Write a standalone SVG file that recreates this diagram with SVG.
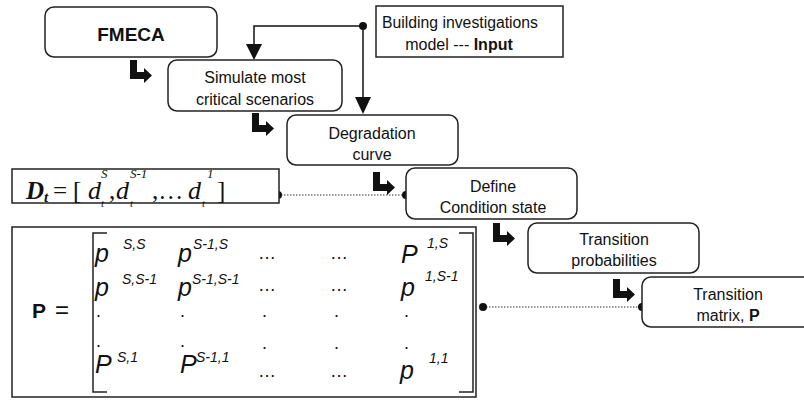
<svg xmlns="http://www.w3.org/2000/svg" width="804" height="400" viewBox="0 0 804 400">
<defs>
<style>
.node{fill:#fff;stroke:#222;stroke-width:1.5}
.box{fill:#fff;stroke:#222;stroke-width:1.5}
.t{font-family:"Liberation Sans",Arial,sans-serif;font-size:16px;fill:#111;text-anchor:middle}
.b{font-weight:bold}
.conn{fill:none;stroke:#111;stroke-width:1.5}
.dot{fill:#111}
.dotted{fill:none;stroke:#333;stroke-width:1.2;stroke-dasharray:1.5 1.5}
.m{font-family:"Liberation Sans",Arial,sans-serif;font-style:italic;font-size:25px;fill:#111}
.s{font-family:"Liberation Sans",Arial,sans-serif;font-style:italic;font-size:14px;fill:#111}
.d{font-family:"Liberation Sans",Arial,sans-serif;font-size:18px;fill:#111}
.sr{font-family:"Liberation Serif","Times New Roman",serif;fill:#111}
.brk{fill:none;stroke:#222;stroke-width:1.5}
</style>
<path id="bent" d="M0,0 H7 V12 H14 V8 L22,15.5 L14,23 V19 H0 Z" fill="#111"/>
</defs>
<rect width="804" height="400" fill="#fff"/>

<g id="connectors">
<path class="conn" d="M363,26 H254 V46"/>
<path d="M246,44 L262,44 L254,60 Z" fill="#111"/>
<path class="conn" d="M363,26 V98"/>
<path d="M355,97 L371,97 L363,114 Z" fill="#111"/>
<circle class="dot" cx="363" cy="26" r="4"/>
<path class="dotted" d="M278,195 H406"/>
<circle class="dot" cx="278" cy="195" r="4"/>
<circle class="dot" cx="406" cy="195" r="4"/>
<path class="dotted" d="M483,307 H642"/>
<circle class="dot" cx="483" cy="307" r="4"/>
<circle class="dot" cx="642" cy="307" r="4"/>
<use href="#bent" x="130" y="60"/>
<use href="#bent" x="252" y="113"/>
<use href="#bent" x="373" y="172"/>
<use href="#bent" x="493" y="223"/>
<use href="#bent" x="613" y="279"/>
</g>

<g id="fmeca">
<rect class="node" x="45" y="7" width="172" height="50" rx="9"/>
<text class="t b" x="131" y="41" style="font-size:19px">FMECA</text>
</g>

<g id="building">
<rect class="box" x="376" y="6" width="187" height="51"/>
<text class="t" x="460" y="28" textLength="156" lengthAdjust="spacingAndGlyphs">Building investigations</text>
<text class="t" x="459" y="50">model --- <tspan class="b">Input</tspan></text>
</g>

<g id="simulate">
<rect class="node" x="168" y="60" width="174" height="51" rx="9"/>
<text class="t" x="255" y="83">Simulate most</text>
<text class="t" x="255" y="105" textLength="118" lengthAdjust="spacingAndGlyphs">critical scenarios</text>
</g>

<g id="degradation">
<rect class="node" x="287" y="115" width="171" height="50" rx="9"/>
<text class="t" x="372" y="139">Degradation</text>
<text class="t" x="372" y="160">curve</text>
</g>

<g id="define">
<rect class="node" x="406" y="168" width="171" height="51" rx="9"/>
<text class="t" x="493" y="192">Define</text>
<text class="t" x="493" y="213">Condition state</text>
</g>

<g id="transprob">
<rect class="node" x="528" y="223" width="171" height="50" rx="9"/>
<text class="t" x="614" y="245">Transition</text>
<text class="t" x="614" y="266">probabilities</text>
</g>

<g id="transmatrix">
<rect class="node" x="642" y="277" width="175" height="50" rx="9"/>
<text class="t" x="728" y="300">Transition</text>
<text class="t" x="728" y="321">matrix, <tspan class="b">P</tspan></text>
</g>

<g id="dt">
<rect class="box" x="12" y="169" width="267" height="34"/>
<text class="sr" x="26" y="199" style="font-size:25px;font-weight:bold;font-style:italic">D</text>
<text class="sr" x="44" y="202" style="font-size:15px;font-weight:bold;font-style:italic">t</text>
<text class="sr" x="53" y="199" style="font-size:25px">=</text>
<text class="sr" x="73" y="199" style="font-size:25px">[</text>
<text class="sr" x="88" y="199" style="font-size:26px;font-style:italic">d</text>
<text class="sr" x="101" y="178" style="font-size:13px;font-style:italic">S</text>
<text class="sr" x="101" y="207" style="font-size:11px;font-style:italic">t</text>
<text class="sr" x="109" y="199" style="font-size:25px">,</text>
<text class="sr" x="116" y="199" style="font-size:26px;font-style:italic">d</text>
<text class="sr" x="130" y="178" style="font-size:13px;font-style:italic">S-1</text>
<text class="sr" x="130" y="207" style="font-size:11px;font-style:italic">t</text>
<text class="sr" x="152" y="199" style="font-size:25px">,…</text>
<text class="sr" x="188" y="199" style="font-size:26px;font-style:italic">d</text>
<text class="sr" x="207" y="178" style="font-size:13px;font-style:italic">1</text>
<text class="sr" x="202" y="207" style="font-size:11px;font-style:italic">t</text>
<text class="sr" x="217" y="199" style="font-size:25px">]</text>
</g>

<g id="pmatrix">
<rect class="box" x="12" y="227" width="464" height="170"/>
<text x="32" y="318" style="font-family:'Liberation Sans',Arial,sans-serif;font-size:21px;font-weight:bold;fill:#111">P</text>
<text x="55" y="318" style="font-family:'Liberation Sans',Arial,sans-serif;font-size:24px;fill:#111">=</text>
<path class="brk" d="M107,233 H93 V392 H107"/>
<path class="brk" d="M459,233 H473 V392 H459"/>
<!-- row 1 -->
<text class="m" x="95" y="262">p</text>
<text class="s" x="123" y="249">S,S</text>
<text class="m" x="178" y="262">p</text>
<text class="s" x="193" y="249">S-1,S</text>
<text class="d" x="258" y="259" textLength="19" lengthAdjust="spacing">…</text>
<text class="d" x="330" y="259" textLength="19" lengthAdjust="spacing">…</text>
<text class="m" x="401" y="263">P</text>
<text class="s" x="427" y="248">1,S</text>
<!-- row 2 -->
<text class="s" x="122" y="284">S,S-1</text>
<text class="s" x="192" y="284">S-1,S-1</text>
<text class="s" x="425" y="281">1,S-1</text>
<text class="m" x="95" y="296">p</text>
<text class="m" x="178" y="296">p</text>
<text class="d" x="258" y="291" textLength="19" lengthAdjust="spacing">…</text>
<text class="d" x="330" y="291" textLength="19" lengthAdjust="spacing">…</text>
<text class="m" x="401" y="296">p</text>
<!-- row 3 -->
<text class="d" x="96" y="317">.</text>
<text class="d" x="180" y="317">.</text>
<text class="d" x="262" y="317">.</text>
<text class="d" x="334" y="317">.</text>
<text class="d" x="404" y="317">.</text>
<!-- row 4 -->
<text class="d" x="96" y="347">.</text>
<text class="d" x="180" y="347">.</text>
<text class="d" x="262" y="349">.</text>
<text class="d" x="334" y="349">.</text>
<text class="d" x="404" y="349">.</text>
<!-- row 5 -->
<text class="m" x="95" y="373">P</text>
<text class="s" x="117" y="362">S,1</text>
<text class="m" x="180" y="373">P</text>
<text class="s" x="196" y="362">S-1,1</text>
<text class="d" x="258" y="377" textLength="19" lengthAdjust="spacing">…</text>
<text class="d" x="330" y="377" textLength="19" lengthAdjust="spacing">…</text>
<text class="m" x="400" y="379">p</text>
<text class="s" x="429" y="363">1,1</text>
</g>
</svg>
